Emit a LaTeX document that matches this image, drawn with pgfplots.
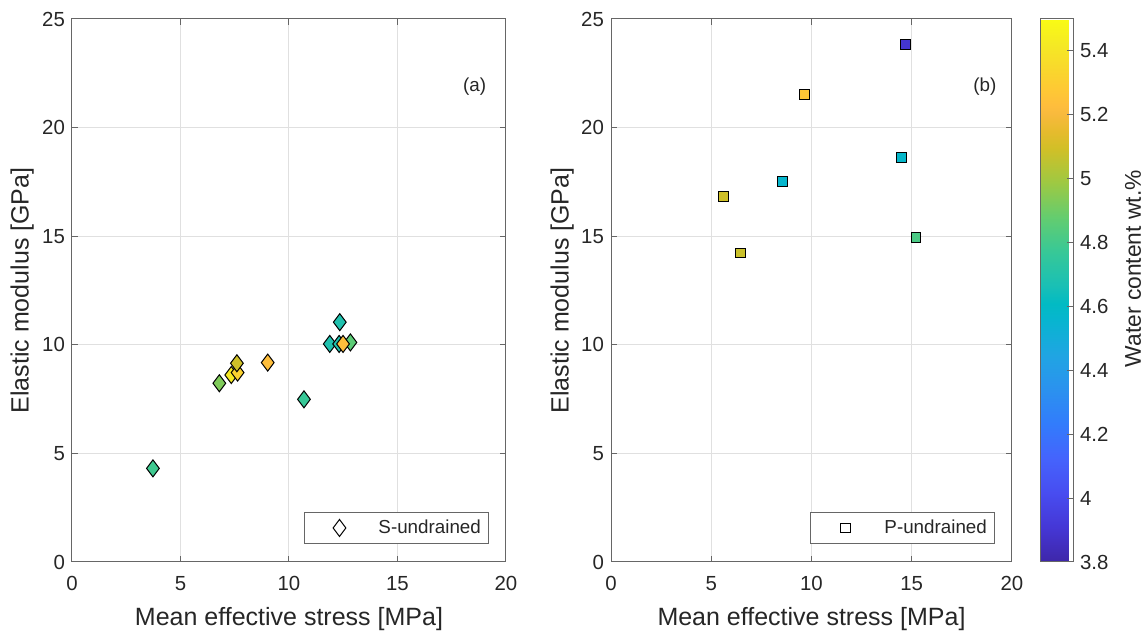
\documentclass[border=0pt]{standalone}
\usepackage{fontspec}
\setmainfont{Liberation Sans}
\usepackage{pgfplots}
\usepackage{pgfplotstable}
\pgfplotsset{compat=1.18}

\pgfplotsset{
 colormap={parula}{
  rgb(0pt)=(0.2422,0.1504,0.6603)
  rgb(4pt)=(0.2706,0.2147,0.8364)
  rgb(8pt)=(0.2813,0.3006,0.9414)
  rgb(12pt)=(0.2699,0.3892,0.9906)
  rgb(16pt)=(0.1963,0.4847,0.9892)
  rgb(20pt)=(0.1687,0.5703,0.9359)
  rgb(24pt)=(0.1248,0.6459,0.8883)
  rgb(28pt)=(0.0297,0.7082,0.8163)
  rgb(30pt)=(0.0067,0.7312,0.7660)
  rgb(32pt)=(0.0964,0.7500,0.7120)
  rgb(36pt)=(0.2161,0.7843,0.5923)
  rgb(40pt)=(0.3909,0.8029,0.4354)
  rgb(44pt)=(0.6174,0.7876,0.2612)
  rgb(48pt)=(0.8203,0.7498,0.1535)
  rgb(50pt)=(0.9035,0.7330,0.1774)
  rgb(52pt)=(0.9728,0.7298,0.2394)
  rgb(53pt)=(0.9956,0.7434,0.2371)
  rgb(55pt)=(0.9952,0.7893,0.2028)
  rgb(57pt)=(0.9786,0.8386,0.1766)
  rgb(60pt)=(0.9597,0.9135,0.1423)
  rgb(63pt)=(0.9769,0.9839,0.0805)},
 mystyle/.style={
  scale only axis, height=271.5pt,
  xmin=0, xmax=20, ymin=0, ymax=25,
  xtick={0,5,...,20}, ytick={0,5,...,25},
  grid=major, major grid style={black!12, line width=0.5pt},
  axis line style={black!60, line width=0.5pt},
  tick style={black!60, line width=0.5pt},
  tick align=inside, major tick length=3pt,
  ticklabel style={font=\fontsize{10.2}{12}\selectfont, text=black!85},
  xticklabel style={yshift=-3.5pt},
  /pgf/number format/assume math mode=true,
  xlabel={Mean effective stress [MPa]},
  ylabel={Elastic modulus [GPa]},
  xlabel style={font=\fontsize{12.5}{15}\selectfont, text=black!85, at={(axis description cs:0.5,-0.105)}, anchor=center},
  point meta min=3.8, point meta max=5.5,
  colormap name=parula,
  legend style={at={(1,0)}, anchor=south east, xshift=-8.5pt, yshift=9pt,
    draw=black!60, line width=0.5pt, inner xsep=0pt, inner ysep=0pt,
    font=\fontsize{9.4}{11}\selectfont, text=black!85,
    nodes={inner sep=0pt, text width=55pt, align=left}},
 },
}

\pgfplotstableread{
x y w
3.73 4.31 4.79
6.79 8.23 4.93
7.34 8.61 5.42
7.63 8.72 5.32
7.60 9.15 5.09
9.02 9.18 5.23
10.69 7.49 4.77
12.34 11.04 4.69
11.88 10.04 4.69
12.31 10.04 4.69
12.83 10.11 4.86
12.49 10.04 5.23
}\sdata

\pgfplotstableread{
x y w
14.68 23.82 3.90
9.66 21.53 5.27
14.48 18.61 4.58
8.54 17.51 4.57
5.60 16.82 5.09
6.47 14.23 5.08
15.21 14.95 4.82
}\pdata

\begin{document}
\begin{tikzpicture}
\useasboundingbox (-36pt,-36.5pt) rectangle (538pt,281pt);
\begin{axis}[mystyle, at={(0pt,0pt)}, anchor=south west, width=217pt,
  ylabel style={font=\fontsize{12.5}{15}\selectfont, text=black!85, at={(axis description cs:-0.115,0.5)}, anchor=center},
  legend image code/.code={\path[draw=none,fill=none] (0pt,-7.75pt) rectangle (37pt,7.75pt); \draw[black, line width=0.5pt, mark=diamond, mark size=4.25pt] plot coordinates {(17.5pt,0pt)};}]
\addplot[scatter, only marks, forget plot, mark=diamond*, mark size=4.25pt, line width=0.5pt,
  scatter src=explicit, scatter/use mapped color={draw=black, fill=mapped color}]
  table[x=x, y=y, meta=w] {\sdata};
\addlegendimage{only marks, mark=diamond}
\addlegendentry{S-undrained}
\node[font=\fontsize{9.4}{11}\selectfont, text=black!85] at (axis cs:18.55,21.9) {(a)};
\end{axis}

\begin{axis}[mystyle, at={(269.5pt,0pt)}, anchor=south west, width=200.5pt,
  ylabel style={font=\fontsize{12.5}{15}\selectfont, text=black!85, at={(axis description cs:-0.122,0.5)}, anchor=center},
  legend image code/.code={\path[draw=none,fill=none] (0pt,-7.75pt) rectangle (37pt,7.75pt); \draw[black, line width=0.5pt, mark=square, mark size=2.4pt] plot coordinates {(17.5pt,0pt)};},
  colorbar,
  colorbar style={at={(parent axis.north east)}, anchor=north west, xshift=5.5pt,
    scale only axis, width=16.5pt, height=271.5pt,
    ytick={3.8,4,4.2,4.4,4.6,4.8,5,5.2,5.4},
    ytick pos=right, yticklabel pos=right, tick align=inside, major tick length=3pt,
    axis line style={black!60, line width=0.5pt},
    tick style={black!60, line width=0.5pt},
    yticklabel style={font=\fontsize{10.2}{12}\selectfont, text=black!85},
    /pgf/number format/assume math mode=true,
    ylabel={Water content wt.\%},
    ylabel style={font=\fontsize{11.4}{14}\selectfont, text=black!85, at={(axis description cs:2.82,0.54)}, anchor=center}}]
\addplot[scatter, only marks, forget plot, mark=square*, mark size=2.4pt, line width=0.5pt,
  scatter src=explicit, scatter/use mapped color={draw=black, fill=mapped color}]
  table[x=x, y=y, meta=w] {\pdata};
\addlegendimage{only marks, mark=square}
\addlegendentry{P-undrained}
\node[font=\fontsize{9.4}{11}\selectfont, text=black!85] at (axis cs:18.65,21.9) {(b)};
\end{axis}
\end{tikzpicture}
\end{document}
